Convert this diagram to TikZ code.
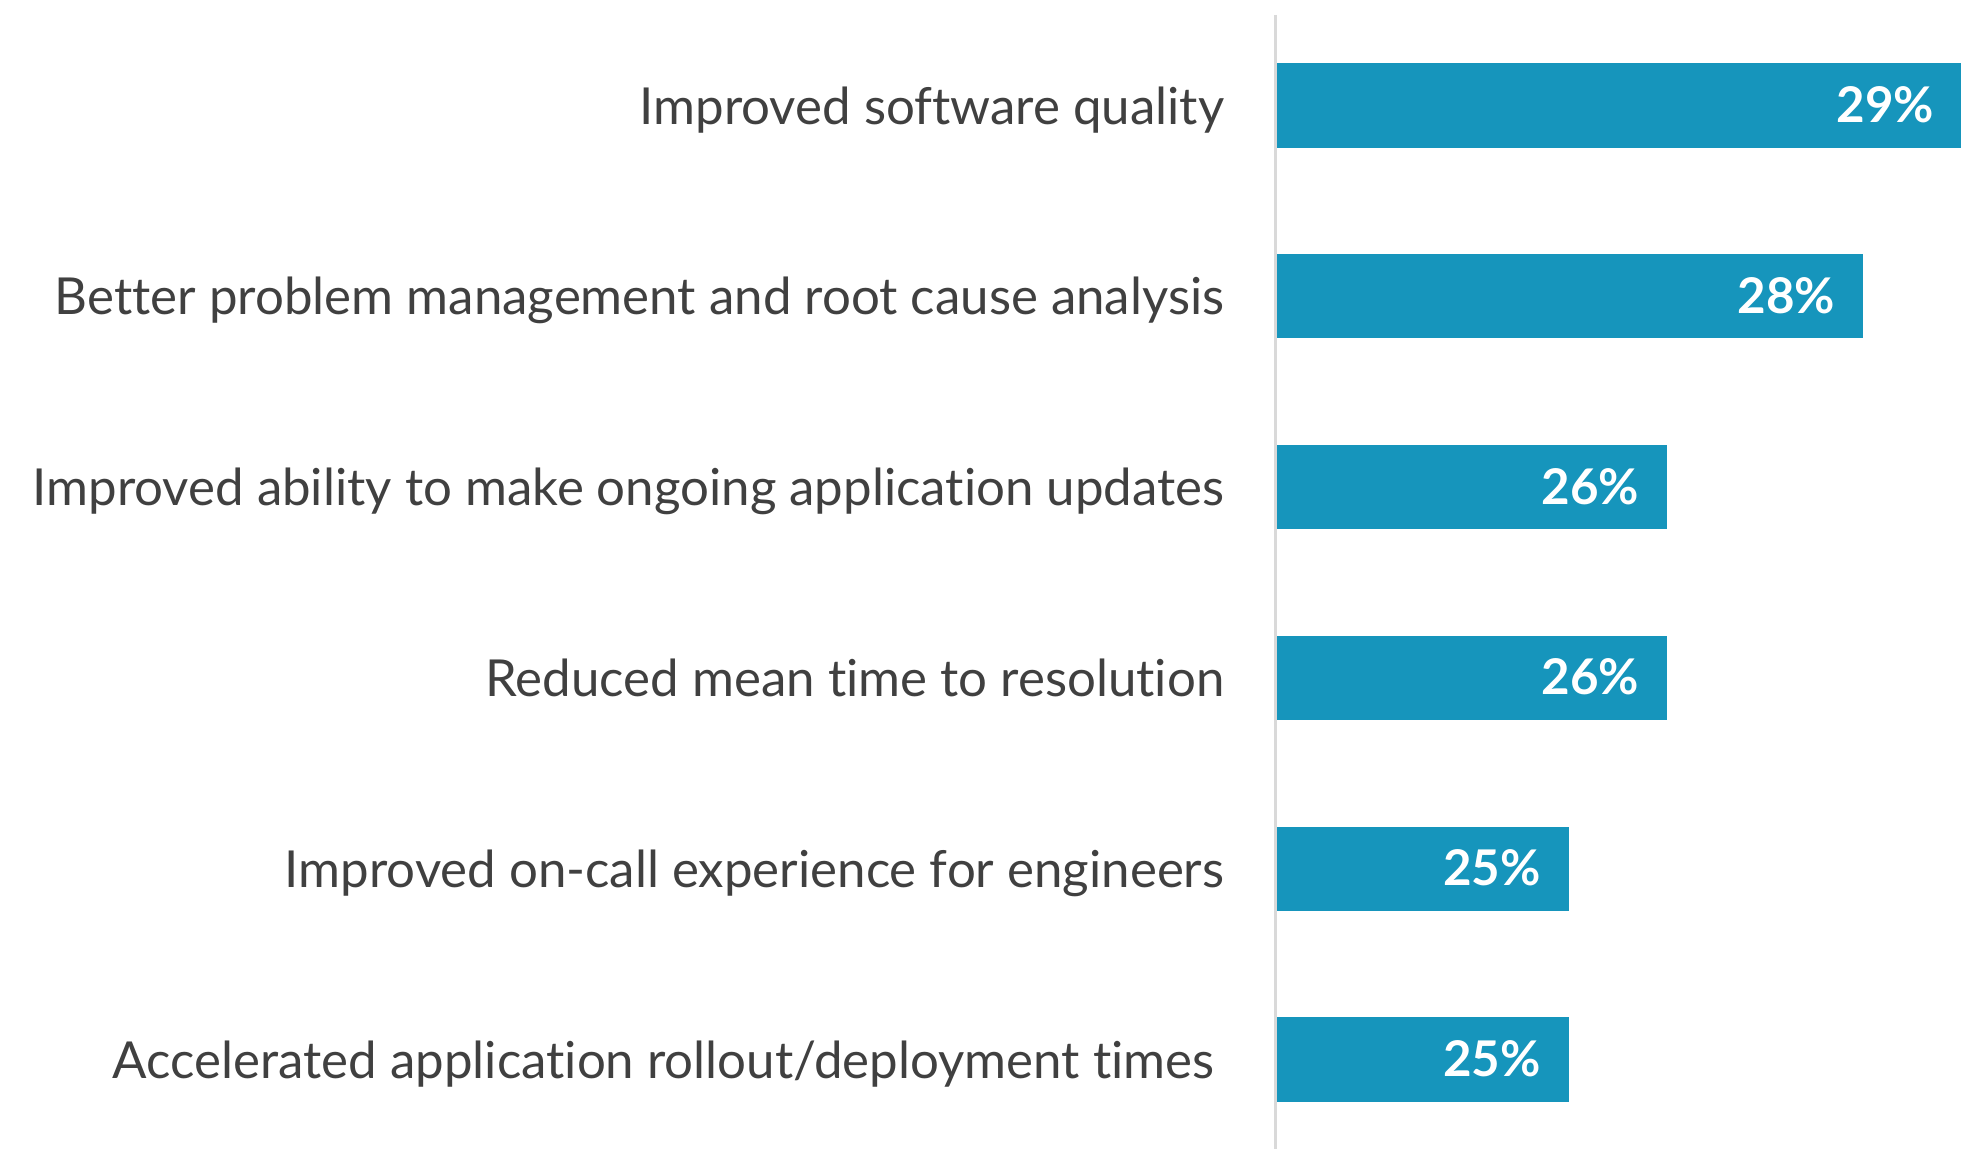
\documentclass[tikz,border=0pt]{standalone}
\usepackage{fontspec}
\setmainfont{Lato}[Ligatures=NoCommon]
\usepackage{tikz}
\usetikzlibrary{positioning}
\definecolor{barblue}{RGB}{22,149,188}
\definecolor{labelgrey}{RGB}{64,64,64}
\definecolor{axisgrey}{RGB}{217,217,217}
\tikzstyle{bar} = [rectangle, fill=barblue, anchor=west,
    minimum height=0.84cm, inner sep=0pt]
\tikzstyle{item} = [text=labelgrey, inner sep=0pt, text height=0.37cm, text depth=0pt,
    font=\fontsize{14.5}{17}\selectfont]
\tikzstyle{value} = [text=white, inner sep=0pt, text height=0.34cm, text depth=0pt,
    font=\fontsize{14}{16}\selectfont\bfseries]
\tikzstyle{axis} = [draw=axisgrey, line width=0.03cm]

\begin{document}
\begin{tikzpicture}[x=0.01cm, y=-0.01cm]
        \useasboundingbox (0,0) rectangle (1961,1149);
        % bars
        \node [bar, minimum width=6.85cm] (bar1) at (1276,105.5) {};
        \node [bar, minimum width=5.86cm] (bar2) at (1276,296.3) {};
        \node [bar, minimum width=3.90cm] (bar3) at (1276,487.1) {};
        \node [bar, minimum width=3.90cm] (bar4) at (1276,677.9) {};
        \node [bar, minimum width=2.92cm] (bar5) at (1276,868.7) {};
        \node [bar, minimum width=2.92cm] (bar6) at (1276,1059.5) {};
        % values
        \node [value, left=0.28cm of bar1.east] (val1) {29\%};
        \node [value, left=0.28cm of bar2.east] (val2) {28\%};
        \node [value, left=0.28cm of bar3.east] (val3) {26\%};
        \node [value, left=0.28cm of bar4.east] (val4) {26\%};
        \node [value, left=0.28cm of bar5.east] (val5) {25\%};
        \node [value, left=0.28cm of bar6.east] (val6) {25\%};
        % labels
        \node [item, left=0.51cm of bar1.west] (item1) {Improved software quality};
        \node [item, left=0.51cm of bar2.west] (item2) {Better problem management and root cause analysis};
        \node [item, left=0.51cm of bar3.west] (item3) {Improved ability to make ongoing application updates};
        \node [item, left=0.51cm of bar4.west] (item4) {Reduced mean time to resolution};
        \node [item, left=0.51cm of bar5.west] (item5) {Improved on-call experience for engineers};
        \node [item, left=0.61cm of bar6.west] (item6) {Accelerated application rollout/deployment times};
        % axis
        \coordinate (axtop) at (1275,15);
        \coordinate (axbot) at (1275,1149);
        \path [axis] (axtop) -- (axbot);
    \end{tikzpicture}
\end{document}
